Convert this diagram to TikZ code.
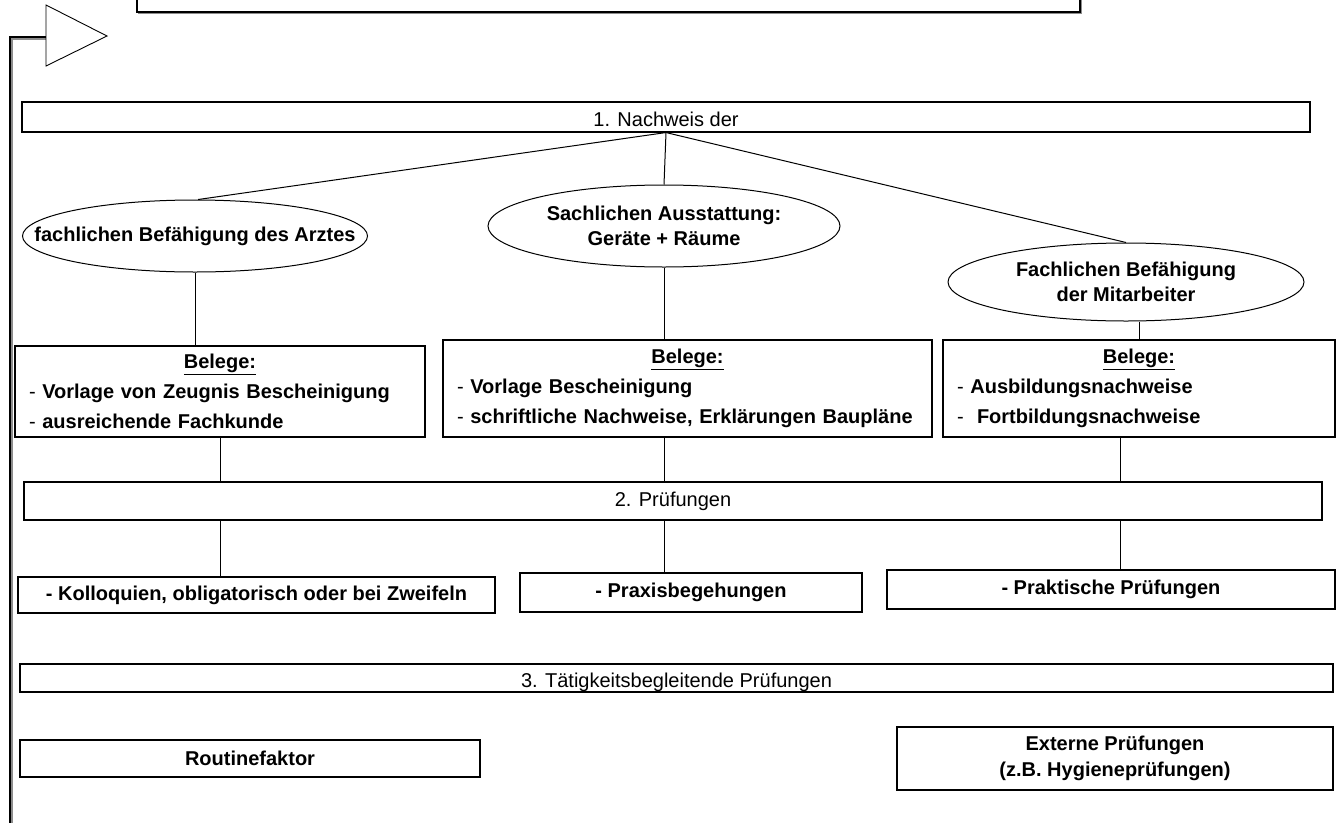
\documentclass[tikz,border=0pt]{standalone}
\usepackage{fontspec}
\setmainfont{Liberation Sans}
\usetikzlibrary{shapes.geometric,shadows}
\begin{document}
\begin{tikzpicture}[x=1pt,y=-1pt,
  every node/.style={font=\fontsize{20}{29}\selectfont},
  box/.style={draw, line width=1.1pt, inner sep=0pt, fill=white,
    drop shadow={shadow xshift=1.3pt, shadow yshift=-1.3pt, fill=black!45, opacity=1}},
  oval/.style={draw, ellipse, line width=1pt, inner sep=0pt},
  ovaltext/.style={align=center, font=\fontsize{20}{25}\selectfont\bfseries},
  conn/.style={line width=1pt},
  belege/.style={box, align=left, inner xsep=14pt, inner ysep=0pt, font=\fontsize{20}{30}\selectfont},
]
\useasboundingbox (0,0) rectangle (1337,822);
% title box (cut off at the top)
\draw[black!45, line width=1.2pt] (138.5,-40) rectangle (1081.5,13.5);
\draw[line width=1.1pt, fill=white] (137,-40) rectangle (1080,12);
% feedback line and triangle
\draw[black!45, line width=2.6pt] (11.5,830) -- (11.5,38.5) -- (46,38.5);
\draw[line width=2.6pt] (10,830) -- (10,37) -- (46,37);
\draw[line width=0.9pt, fill=white] (46,5) -- (107,36) -- (46,66) -- cycle;

% level 1
\node[box, minimum width=1288pt, minimum height=30pt, text height=24pt, text depth=6pt] (n1) at (666,117) {1. Nachweis der};
\node[oval, minimum width=345pt, minimum height=72pt,
  label={[ovaltext]center:fachlichen Befähigung des Arztes}] (e1) at (195,236) {};
\node[oval, minimum width=352pt, minimum height=82pt,
  label={[ovaltext]center:Sachlichen Ausstattung:\\Geräte + Räume}] (e2) at (664,226) {};
\node[oval, minimum width=356pt, minimum height=78pt,
  label={[ovaltext]center:Fachlichen Befähigung\\der Mitarbeiter}] (e3) at (1126,282) {};

\node[belege, minimum width=410pt, minimum height=91pt, text width=382pt] (B1) at (220,391.5)
 {\hfill\textbf{\underline{Belege:}}\hfill\mbox{}\\- \textbf{Vorlage von Zeugnis Bescheinigung}\\- \textbf{ausreichende Fachkunde}};
\node[belege, minimum width=489pt, minimum height=97pt, text width=461pt] (B2) at (687.5,388.5)
 {\hfill\textbf{\underline{Belege:}}\hfill\mbox{}\\- \textbf{Vorlage Bescheinigung}\\- \textbf{schriftliche Nachweise, Erklärungen Baupläne}};
\node[belege, minimum width=392pt, minimum height=97pt, text width=364pt] (B3) at (1139,388.5)
 {\hfill\textbf{\underline{Belege:}}\hfill\mbox{}\\- \textbf{Ausbildungsnachweise}\\-\ \ \textbf{Fortbildungsnachweise}};

% level 2
\node[box, minimum width=1298pt, minimum height=38pt] (P2) at (673,501) {2. Prüfungen};
\node[box, minimum width=477pt, minimum height=36pt, font=\fontsize{20}{24}\selectfont\bfseries] (K) at (256.5,595) {- Kolloquien, obligatorisch oder bei Zweifeln};
\node[box, minimum width=342pt, minimum height=39pt, font=\fontsize{20}{24}\selectfont\bfseries] (Px) at (691,592.5) {- Praxisbegehungen};
\node[box, minimum width=448pt, minimum height=39pt, font=\fontsize{20}{24}\selectfont\bfseries] (Pk) at (1111,589.5) {- Praktische Prüfungen};

% level 3
\node[box, minimum width=1313pt, minimum height=28pt, text height=23pt, text depth=5pt] (P3) at (676.5,678) {3. Tätigkeitsbegleitende Prüfungen};
\node[box, minimum width=460pt, minimum height=37pt, font=\fontsize{20}{24}\selectfont\bfseries] (R) at (250,758.5) {Routinefaktor};
\node[box, minimum width=436pt, minimum height=63pt, align=center, font=\fontsize{20}{26}\selectfont\bfseries] (X) at (1115,758.5) {Externe Prüfungen\\(z.B. Hygieneprüfungen)};

% connectors
\coordinate (c3) at (1120,0);
\draw[conn] (n1.south) -- (e1.85);
\draw[conn] (n1.south) -- (e2.north);
\draw[conn] (n1.south) -- (e3.north);
\draw[conn] (e1.south) -- (e1.south |- B1.north);
\draw[conn] (e2.south) -- (e2.south |- B2.north);
\draw[conn] (B3.north |- e3.south) -- (B3.north);
\draw[conn] (B1.south) -- (B1.south |- P2.north);
\draw[conn] (e2.south |- B2.south) -- (e2.south |- P2.north);
\draw[conn] (B3.south -| c3) -- (P2.north -| c3);
\draw[conn] (P2.south -| B1.south) -- (K.north -| B1.south);
\draw[conn] (P2.south -| e2.south) -- (Px.north -| e2.south);
\draw[conn] (P2.south -| c3) -- (Pk.north -| c3);
\end{tikzpicture}
\end{document}
